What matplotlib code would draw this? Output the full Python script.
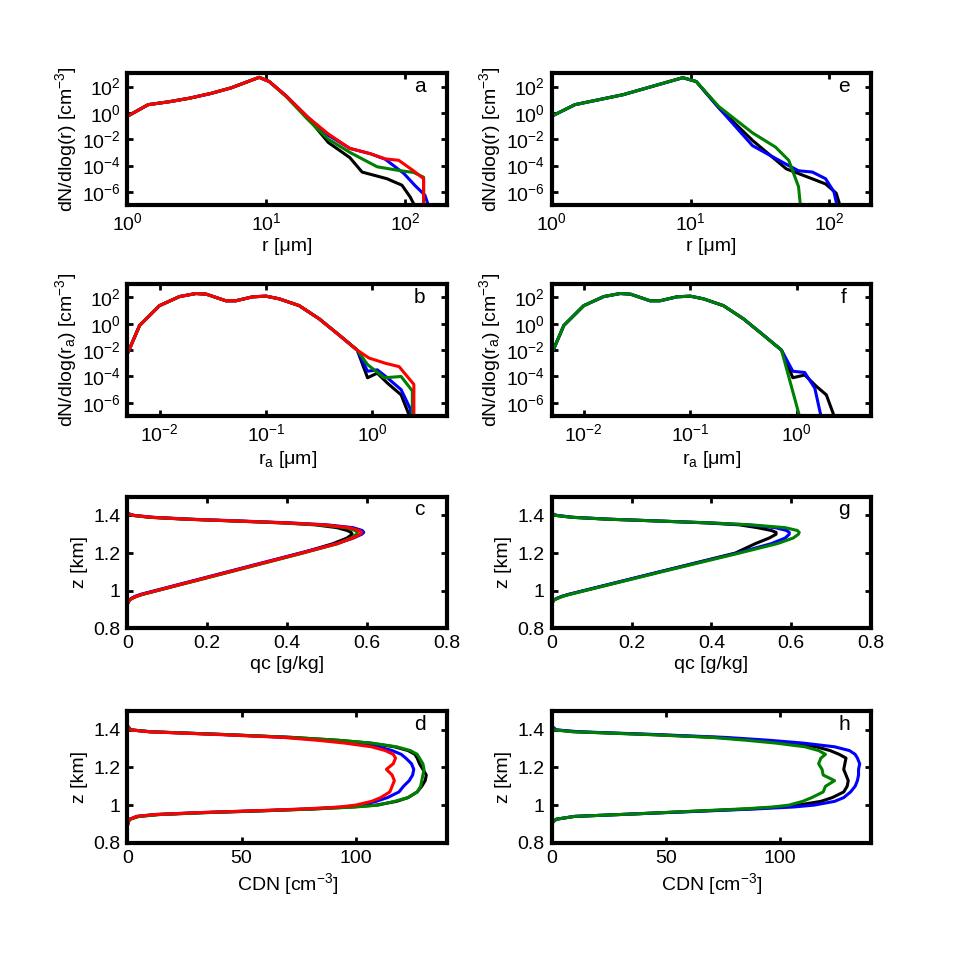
import numpy as np
import matplotlib
matplotlib.use("Agg")
import matplotlib.pyplot as plt
from matplotlib.ticker import FixedLocator, NullLocator

plt.rcParams['font.family'] = ['Liberation Sans', 'DejaVu Sans']
plt.rcParams['mathtext.fontset'] = 'custom'
plt.rcParams['mathtext.rm'] = 'Liberation Sans'
plt.rcParams['mathtext.it'] = 'Liberation Sans:italic'
plt.rcParams['font.size'] = 14

BLACK = 'k'
BLUE = '#0000ff'
GREEN = '#008000'
RED = '#ff0000'

# ---- panel a : droplet spectra ----
a_black_r = [1, 1.41, 2, 2.8, 4, 5.6, 8.9, 10.5, 14, 20, 28, 40, 49, 74, 95, 109, 118]
a_black_n = [0.56, 4.2, 7, 13, 30, 80, 500, 240, 18, 0.4, 5.6e-3, 4e-4, 3.2e-5, 1e-5, 3.2e-6, 4e-7, 8e-8]
a_blue_r = [1, 1.41, 2, 2.8, 4, 5.6, 8.9, 10.5, 14, 20, 28, 40, 56, 72, 98, 118, 139, 148]
a_blue_n = [0.56, 4.2, 7, 13, 30, 80, 500, 240, 18, 0.45, 0.02, 2e-3, 8e-4, 3e-4, 2.5e-5, 3e-6, 5.6e-7, 8e-8]
a_green_r = [1, 1.41, 2, 2.8, 4, 5.6, 8.9, 10.5, 14, 20, 28, 40, 63, 93, 115, 136, 136]
a_green_n = [0.56, 4.2, 7, 13, 30, 80, 500, 240, 16, 0.3, 0.01, 1e-3, 8e-5, 4e-5, 3e-5, 1.3e-5, 1e-9]
a_red_r = [1, 1.41, 2, 2.8, 4, 5.6, 8.9, 10.5, 14, 20, 28, 40, 56, 72, 90, 115, 136, 136]
a_red_n = [0.56, 4.2, 7, 13, 30, 80, 500, 240, 18, 0.45, 0.025, 2e-3, 8e-4, 3.2e-4, 2.5e-4, 4e-5, 1e-5, 1e-9]

# ---- panel e ----
e_black_r = [1, 1.47, 3.27, 8.8, 11, 16, 28, 49, 75, 94, 112, 120]
e_black_n = [0.56, 4.2, 24, 470, 240, 2.4, 8e-3, 5.6e-5, 1e-5, 4e-6, 8e-7, 8e-8]
e_blue_r = [1, 1.47, 3.27, 8.8, 11, 16, 28, 48.6, 60, 75.5, 94, 108, 114]
e_blue_n = [0.56, 4.2, 24, 470, 240, 2.4, 3.2e-3, 1.3e-4, 4e-5, 3.2e-5, 1e-5, 1e-6, 8e-8]
e_green_r = [1, 1.47, 3.27, 8.8, 11, 16, 28, 41, 51, 60, 62]
e_green_n = [0.56, 4.2, 24, 470, 240, 3, 0.03, 2.5e-3, 2.5e-4, 2.5e-6, 8e-8]

# ---- panels b / f : aerosol spectra ----
ra_core = [0.0051, 0.0065, 0.01, 0.0154, 0.022, 0.0275, 0.042, 0.052, 0.075, 0.1, 0.133, 0.205, 0.316, 0.49, 0.72]
n_core = [7.9e-3, 0.75, 24, 117, 200, 178, 56, 56, 112, 126, 79, 24, 2.4, 0.133, 0.01]

b_black_r = [0.9, 1.11, 1.38, 1.86, 2.2, 2.3]
b_black_n = [8e-5, 1.8e-4, 3.2e-5, 4e-6, 1.3e-7, 8e-8]
b_blue_r = [0.9, 1.11, 1.38, 1.86, 2.25, 2.35]
b_blue_n = [2.5e-4, 3.2e-4, 8e-5, 1e-5, 4e-7, 8e-8]
b_green_r = [0.9, 1.29, 1.86, 2.37, 2.37]
b_green_n = [8e-4, 8e-5, 1e-4, 8e-6, 1e-9]
b_red_r = [0.93, 1.33, 1.78, 2.45, 2.45]
b_red_n = [2.5e-3, 1e-3, 5.6e-4, 2.5e-5, 1e-9]

f_black_r = [0.92, 1.19, 1.53, 1.9, 2.27]
f_black_n = [8e-5, 1.3e-4, 1.8e-5, 4e-6, 8e-8]
f_blue_r = [0.92, 1.19, 1.48, 1.7]
f_blue_n = [2.5e-4, 2e-4, 1.3e-5, 8e-8]
f_green_r = [1.07]
f_green_n = [8e-8]

# ---- panels c / g : liquid water profiles ----
z_qc = [0.80, 0.93, 0.95, 0.96, 0.97, 0.98, 1.10, 1.20, 1.25, 1.28, 1.30, 1.31, 1.32,
        1.335, 1.35, 1.36, 1.37, 1.38, 1.39, 1.40, 1.41, 1.50]
c_black = [0, 0, 0.005, 0.012, 0.022, 0.036, 0.254, 0.436, 0.515, 0.55, 0.563, 0.56, 0.55,
           0.525, 0.47, 0.39, 0.27, 0.145, 0.055, 0.013, 0, 0]
c_blue = [0, 0, 0.004, 0.010, 0.019, 0.032, 0.250, 0.432, 0.524, 0.566, 0.587, 0.592, 0.588,
          0.565, 0.50, 0.41, 0.29, 0.16, 0.065, 0.018, 0, 0]
c_green = [0, 0, 0.005, 0.013, 0.024, 0.038, 0.258, 0.440, 0.527, 0.560, 0.574, 0.576, 0.57,
           0.548, 0.48, 0.395, 0.275, 0.15, 0.058, 0.014, 0, 0]
c_red = [0, 0, 0.005, 0.012, 0.022, 0.036, 0.254, 0.436, 0.525, 0.565, 0.583, 0.587, 0.58,
         0.555, 0.49, 0.40, 0.28, 0.15, 0.06, 0.015, 0, 0]

g_black = [0, 0, 0.005, 0.014, 0.026, 0.042, 0.27, 0.46, 0.51, 0.545, 0.562, 0.562, 0.55,
           0.515, 0.47, 0.39, 0.27, 0.14, 0.05, 0.01, 0, 0]
g_blue = [0, 0, 0.005, 0.014, 0.026, 0.042, 0.27, 0.465, 0.55, 0.585, 0.595, 0.595, 0.588,
          0.56, 0.49, 0.40, 0.275, 0.145, 0.055, 0.014, 0, 0]
g_green = [0, 0, 0.006, 0.016, 0.028, 0.045, 0.275, 0.47, 0.565, 0.605, 0.618, 0.62, 0.615,
           0.585, 0.50, 0.40, 0.27, 0.14, 0.05, 0.01, 0, 0]

# ---- panels d / h : droplet number profiles ----
z_cdn = [0.80, 0.89, 0.91, 0.925, 0.94, 0.95, 0.96, 0.97, 0.98, 0.99, 1.00, 1.02, 1.04, 1.07,
         1.10, 1.13, 1.16, 1.19, 1.22, 1.25, 1.27, 1.29, 1.31, 1.33, 1.345, 1.36, 1.375,
         1.39, 1.40, 1.42, 1.50]
d_black = [0, 0, 0.3, 1, 5, 14, 34, 60, 82, 98, 109, 118, 123, 127, 129, 130.5, 131, 129.5,
           128, 127, 126, 123, 117, 106, 92, 72, 43, 10, 1.5, 0, 0]
d_blue = [0, 0, 0.3, 1, 4, 12, 31, 57, 80, 95, 102, 109, 114, 119, 121, 123.5, 125, 125.5,
          124.5, 122, 120, 116, 110, 99, 87, 70, 42, 10, 1.5, 0, 0]
d_green = [0, 0, 0.3, 1, 5, 14, 34, 60, 83, 100, 110, 117, 123, 127, 128.5, 129, 129.5, 130,
           129.5, 128, 127, 124, 118, 107, 92, 72, 43, 10, 1.5, 0, 0]
d_red = [0, 0, 0.3, 1, 4, 12, 31, 56, 78, 93, 100, 107, 111, 115, 116, 117, 116, 113.5,
         116.5, 117.5, 116.5, 113, 107, 95, 83, 68, 40, 9, 1, 0, 0]

h_black = [0, 0, 0.5, 2, 10, 30, 49, 68, 87, 100, 108, 118, 123, 128, 129.5, 130, 129, 128,
           128.5, 129, 126, 122, 116, 103, 90, 72, 44, 10, 1.5, 0, 0]
h_blue = [0, 0, 0.5, 2, 10, 30, 50, 70, 90, 106, 115, 124, 128, 131, 133, 134, 134.5, 134.5,
          135, 134, 133, 130.5, 124, 110, 95, 76, 46, 12, 2, 0, 0]
h_green = [0, 0, 0.5, 2, 10, 30, 48, 66, 84, 97, 104, 110, 114, 119, 120, 124, 119, 118.5,
           117, 118, 120, 117, 111, 98, 85, 70, 42, 9, 1, 0, 0]


def style(ax):
    for s in ax.spines.values():
        s.set_linewidth(3)
    ax.tick_params(direction='in', top=True, right=True, length=4, width=2,
                   labelsize=14, pad=5)


def log_panel(ax, xlim, xticks):
    ax.set_xscale('log')
    ax.set_yscale('log')
    ax.set_xlim(*xlim)
    ax.set_ylim(1e-7, 1e3)
    ax.xaxis.set_major_locator(FixedLocator(xticks))
    ax.yaxis.set_major_locator(FixedLocator([1e-6, 1e-4, 1e-2, 1e0, 1e2]))
    ax.xaxis.set_minor_locator(NullLocator())
    ax.yaxis.set_minor_locator(NullLocator())


fig = plt.figure(figsize=(9.62, 9.69), dpi=100)
lefts = [0.1325, 0.5735]
bottoms = [0.7884, 0.5707, 0.3516, 0.1303]
w, h = 0.332, 0.1359
axs = [[fig.add_axes([l, b, w, h]) for l in lefts] for b in bottoms]

lw = 2.2

# row 1: droplet spectra
ax = axs[0][0]
ax.plot(a_black_r, a_black_n, color=BLACK, lw=lw)
ax.plot(a_blue_r, a_blue_n, color=BLUE, lw=lw)
ax.plot(a_green_r, a_green_n, color=GREEN, lw=lw)
ax.plot(a_red_r, a_red_n, color=RED, lw=lw)
ax = axs[0][1]
ax.plot(e_black_r, e_black_n, color=BLACK, lw=lw)
ax.plot(e_blue_r, e_blue_n, color=BLUE, lw=lw)
ax.plot(e_green_r, e_green_n, color=GREEN, lw=lw)
for ax in axs[0]:
    log_panel(ax, (1, 200), [1, 10, 100])
    ax.set_xlabel('r [μm]', labelpad=3)
    ax.set_ylabel('dN/dlog(r) [cm$^{-3}$]', labelpad=2)

# row 2: aerosol spectra
ax = axs[1][0]
for rr, nn, col in [(b_black_r, b_black_n, BLACK), (b_blue_r, b_blue_n, BLUE),
                    (b_green_r, b_green_n, GREEN), (b_red_r, b_red_n, RED)]:
    ax.plot(ra_core + rr, n_core + nn, color=col, lw=lw)
ax = axs[1][1]
for rr, nn, col in [(f_black_r, f_black_n, BLACK), (f_blue_r, f_blue_n, BLUE),
                    (f_green_r, f_green_n, GREEN)]:
    ax.plot(ra_core + rr, n_core + nn, color=col, lw=lw)
for ax in axs[1]:
    log_panel(ax, (0.005, 5), [1e-2, 1e-1, 1e0])
    ax.set_xlabel(r'r$_\mathrm{a}$ [μm]', labelpad=3)
    ax.set_ylabel(r'dN/dlog(r$_\mathrm{a}$) [cm$^{-3}$]', labelpad=2)

# row 3: qc profiles
ax = axs[2][0]
for q, col in [(c_black, BLACK), (c_blue, BLUE), (c_green, GREEN), (c_red, RED)]:
    ax.plot(q, z_qc, color=col, lw=lw)
ax = axs[2][1]
for q, col in [(g_black, BLACK), (g_blue, BLUE), (g_green, GREEN)]:
    ax.plot(q, z_qc, color=col, lw=lw)
for ax in axs[2]:
    ax.set_xlim(0, 0.8)
    ax.set_ylim(0.8, 1.5)
    ax.set_xticks([0, 0.2, 0.4, 0.6, 0.8])
    ax.set_xticklabels(['0', '0.2', '0.4', '0.6', '0.8'])
    ax.set_yticks([0.8, 1.0, 1.2, 1.4])
    ax.set_yticklabels(['0.8', '1', '1.2', '1.4'])
    ax.set_xlabel('qc [g/kg]', labelpad=3)
    ax.set_ylabel('z [km]', labelpad=4)

# row 4: CDN profiles
ax = axs[3][0]
for n, col in [(d_black, BLACK), (d_blue, BLUE), (d_green, GREEN), (d_red, RED)]:
    ax.plot(n, z_cdn, color=col, lw=lw)
ax = axs[3][1]
for n, col in [(h_black, BLACK), (h_blue, BLUE), (h_green, GREEN)]:
    ax.plot(n, z_cdn, color=col, lw=lw)
for ax in axs[3]:
    ax.set_xlim(0, 140)
    ax.set_ylim(0.8, 1.5)
    ax.set_xticks([0, 50, 100])
    ax.set_yticks([0.8, 1.0, 1.2, 1.4])
    ax.set_yticklabels(['0.8', '1', '1.2', '1.4'])
    ax.set_xlabel('CDN [cm$^{-3}$]', labelpad=3)
    ax.set_ylabel('z [km]', labelpad=4)

letters = [['a', 'e'], ['b', 'f'], ['c', 'g'], ['d', 'h']]
for i in range(4):
    for j in range(2):
        style(axs[i][j])
        axs[i][j].text(0.915, 0.90, letters[i][j], transform=axs[i][j].transAxes,
                       ha='center', va='center', fontsize=15)

fig.savefig('out.png', dpi=100)
